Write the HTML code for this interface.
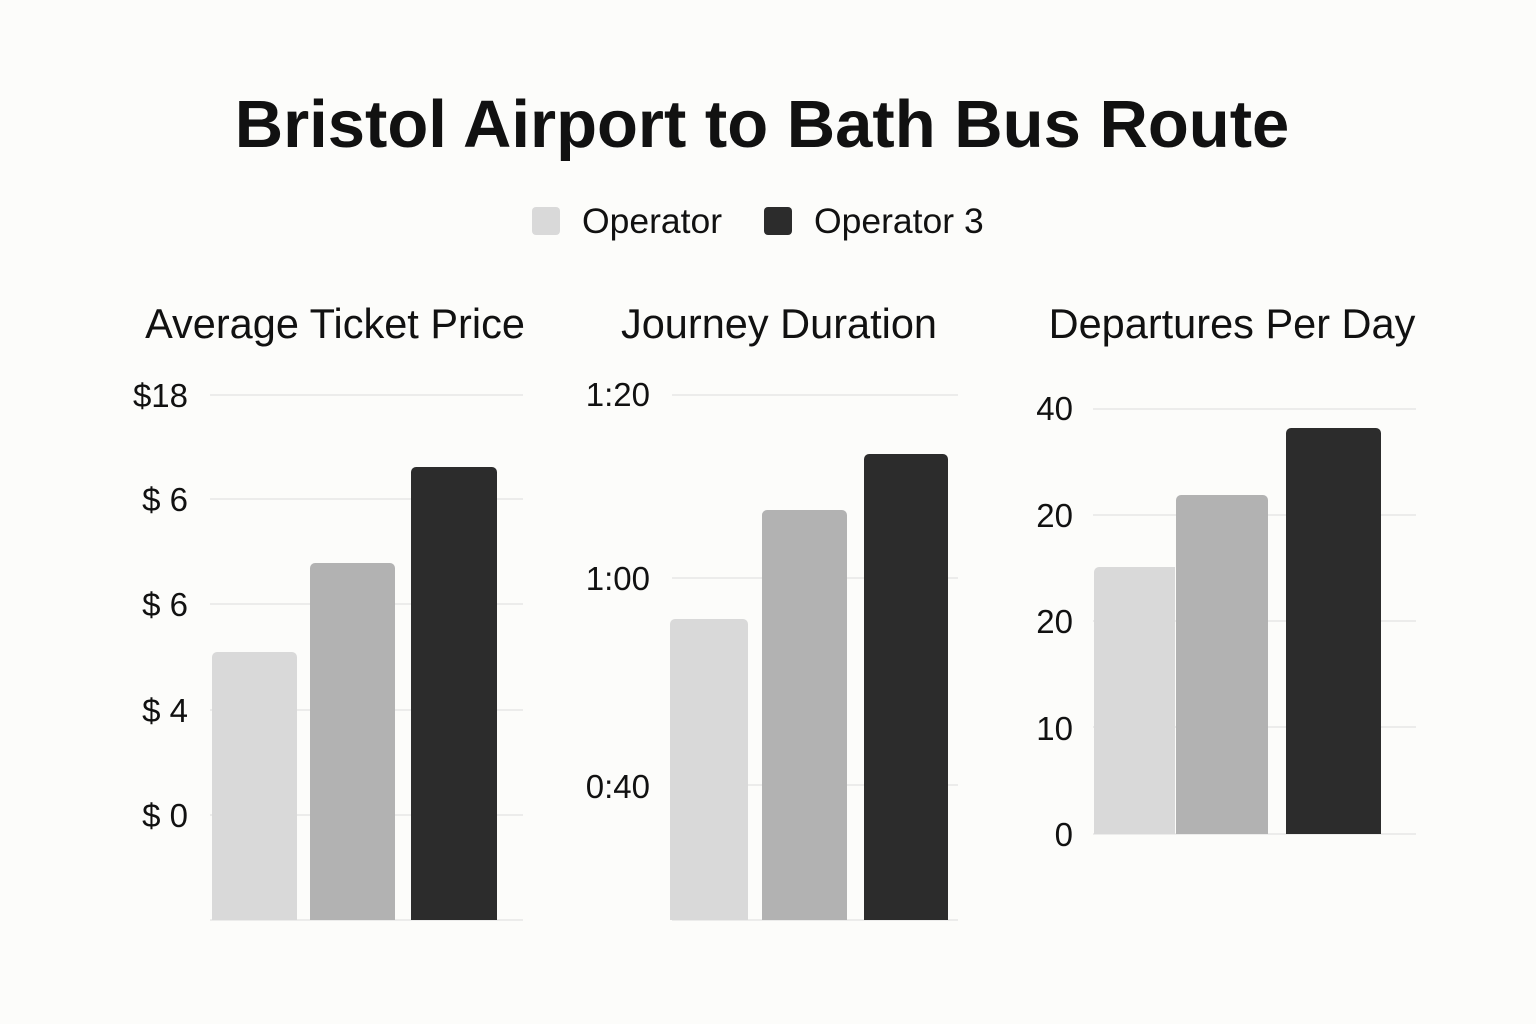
<!DOCTYPE html>
<html><head><meta charset="utf-8"><style>
html,body{margin:0;padding:0;background:#fcfcfa;}
svg{display:block;}
text{font-family:"Liberation Sans",sans-serif;fill:#111;}
</style></head><body>
<svg width="1536" height="1024" viewBox="0 0 1536 1024" xmlns="http://www.w3.org/2000/svg">
<rect width="1536" height="1024" fill="#fcfcfa"/>
<text x="762" y="147" font-size="67" font-weight="bold" text-anchor="middle">Bristol Airport to Bath Bus Route</text>
<rect x="532" y="207" width="28" height="28" rx="4" fill="#d9d9d9"/>
<text x="582" y="233" font-size="35.5">Operator</text>
<rect x="764" y="207" width="28" height="28" rx="4" fill="#2c2c2c"/>
<text x="814" y="233" font-size="35.5">Operator 3</text>

<g font-size="41.5" text-anchor="middle">
<text x="335" y="338">Average Ticket Price</text>
<text x="779" y="338">Journey Duration</text>
<text x="1232" y="338">Departures Per Day</text>
</g>

<g stroke="#e6e6e6" stroke-width="1.5">
<line x1="210" y1="395" x2="523" y2="395"/><line x1="210" y1="499" x2="523" y2="499"/>
<line x1="210" y1="604" x2="523" y2="604"/><line x1="210" y1="710" x2="523" y2="710"/>
<line x1="210" y1="815" x2="523" y2="815"/><line x1="210" y1="920" x2="523" y2="920"/>
<line x1="672" y1="395" x2="958" y2="395"/><line x1="672" y1="578" x2="958" y2="578"/>
<line x1="672" y1="785" x2="958" y2="785"/><line x1="672" y1="920" x2="958" y2="920"/>
<line x1="1093" y1="409" x2="1416" y2="409"/><line x1="1093" y1="515" x2="1416" y2="515"/>
<line x1="1093" y1="621" x2="1416" y2="621"/><line x1="1093" y1="727" x2="1416" y2="727"/>
<line x1="1093" y1="834" x2="1416" y2="834"/>
</g>

<g font-size="33" text-anchor="end">
<text x="188" y="407">$18</text><text x="188" y="511">$ 6</text><text x="188" y="616">$ 6</text>
<text x="188" y="722">$ 4</text><text x="188" y="827">$ 0</text>
<text x="650" y="406">1:20</text><text x="650" y="590">1:00</text><text x="650" y="798">0:40</text>
<text x="1073" y="420">40</text><text x="1073" y="527">20</text><text x="1073" y="633">20</text>
<text x="1073" y="740">10</text><text x="1073" y="846">0</text>
</g>

<g>
<path d="M212 920V657a5 5 0 0 1 5-5h75a5 5 0 0 1 5 5V920z" fill="#d9d9d9"/>
<path d="M310 920V568a5 5 0 0 1 5-5h75a5 5 0 0 1 5 5V920z" fill="#b2b2b2"/>
<path d="M411 920V472a5 5 0 0 1 5-5h76a5 5 0 0 1 5 5V920z" fill="#2c2c2c"/>
<path d="M670 920V624a5 5 0 0 1 5-5h68a5 5 0 0 1 5 5V920z" fill="#d9d9d9"/>
<path d="M762 920V515a5 5 0 0 1 5-5h75a5 5 0 0 1 5 5V920z" fill="#b2b2b2"/>
<path d="M864 920V459a5 5 0 0 1 5-5h74a5 5 0 0 1 5 5V920z" fill="#2c2c2c"/>
<path d="M1094 834V572a5 5 0 0 1 5-5h76V834z" fill="#d9d9d9"/>
<path d="M1176 834V500a5 5 0 0 1 5-5h82a5 5 0 0 1 5 5V834z" fill="#b2b2b2"/>
<path d="M1286 834V433a5 5 0 0 1 5-5h85a5 5 0 0 1 5 5V834z" fill="#2c2c2c"/>
</g>
</svg>
</body></html>
